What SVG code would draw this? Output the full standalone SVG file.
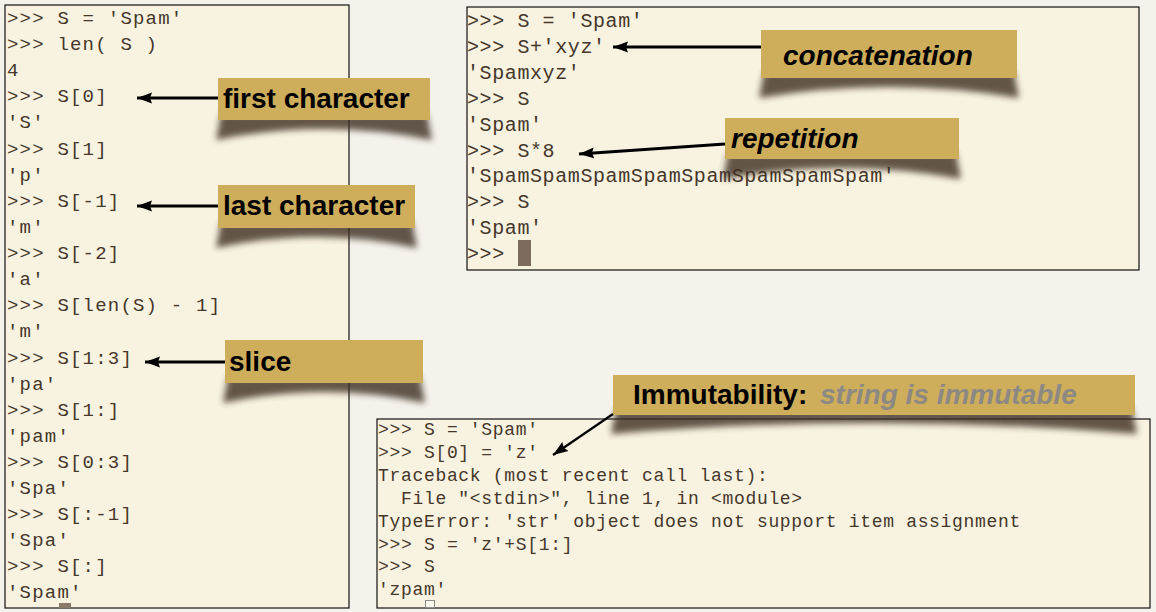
<svg xmlns="http://www.w3.org/2000/svg" width="1156" height="612" viewBox="0 0 1156 612">
<style>
.bg{fill:#f4f2ea}
.panel{fill:#f8f2e0;stroke:#111;stroke-width:1.2}
.code{font-family:"Liberation Mono","Courier New",monospace;fill:#45372b;white-space:pre}
.cl{font-size:19px;letter-spacing:1.2px}
.ct{font-size:20px;letter-spacing:0.6px}
.cb{font-size:18px;letter-spacing:0.68px}
.box{fill:#ceae5b}
.shadow{fill:#3d2f24;opacity:0.8;filter:url(#blur)}
.lbl{font-family:"Liberation Sans",Arial,sans-serif;font-weight:bold;font-size:28px;fill:#000}
.it{font-style:italic}
.grey{fill:#8c8984}
.arrow{fill:none;stroke:#000;stroke-width:3;marker-end:url(#ah)}
</style>
<defs>
<filter id="blur" x="-10%" y="-50%" width="120%" height="200%"><feGaussianBlur stdDeviation="3"/></filter>
<marker id="ah" markerUnits="userSpaceOnUse" markerWidth="18" markerHeight="12" refX="15" refY="6" orient="auto"><path d="M15,6 L0,0.5 L2,6 L0,11.5 Z" fill="#000"/></marker>
</defs>
<rect class="bg" x="0" y="0" width="1156" height="612"/>

<g id="panel-left">
<rect class="panel" x="5" y="5" width="344" height="603"/>
<text class="code cl" x="7">
<tspan x="7" y="24">&gt;&gt;&gt; S = 'Spam'</tspan>
<tspan x="7" y="50">&gt;&gt;&gt; len( S )</tspan>
<tspan x="7" y="76">4</tspan>
<tspan x="7" y="102">&gt;&gt;&gt; S[0]</tspan>
<tspan x="7" y="128">'S'</tspan>
<tspan x="7" y="155">&gt;&gt;&gt; S[1]</tspan>
<tspan x="7" y="181">'p'</tspan>
<tspan x="7" y="207">&gt;&gt;&gt; S[-1]</tspan>
<tspan x="7" y="233">'m'</tspan>
<tspan x="7" y="259">&gt;&gt;&gt; S[-2]</tspan>
<tspan x="7" y="285">'a'</tspan>
<tspan x="7" y="311">&gt;&gt;&gt; S[len(S) - 1]</tspan>
<tspan x="7" y="337">'m'</tspan>
<tspan x="7" y="364">&gt;&gt;&gt; S[1:3]</tspan>
<tspan x="7" y="390">'pa'</tspan>
<tspan x="7" y="416">&gt;&gt;&gt; S[1:]</tspan>
<tspan x="7" y="442">'pam'</tspan>
<tspan x="7" y="468">&gt;&gt;&gt; S[0:3]</tspan>
<tspan x="7" y="494">'Spa'</tspan>
<tspan x="7" y="520">&gt;&gt;&gt; S[:-1]</tspan>
<tspan x="7" y="546">'Spa'</tspan>
<tspan x="7" y="572">&gt;&gt;&gt; S[:]</tspan>
<tspan x="7" y="598">'Spam'</tspan>
</text>
<rect x="59" y="603" width="12" height="5" fill="#8a7a6a"/>
</g>

<g id="panel-top">
<rect class="panel" x="467" y="7" width="672" height="263"/>
<text class="code ct">
<tspan x="467" y="27">&gt;&gt;&gt; S = 'Spam'</tspan>
<tspan x="467" y="53">&gt;&gt;&gt; S+'xyz'</tspan>
<tspan x="467" y="79">'Spamxyz'</tspan>
<tspan x="467" y="105">&gt;&gt;&gt; S</tspan>
<tspan x="467" y="131">'Spam'</tspan>
<tspan x="467" y="157">&gt;&gt;&gt; S*8</tspan>
<tspan x="467" y="182">'SpamSpamSpamSpamSpamSpamSpamSpam'</tspan>
<tspan x="467" y="208">&gt;&gt;&gt; S</tspan>
<tspan x="467" y="234">'Spam'</tspan>
<tspan x="467" y="260">&gt;&gt;&gt;</tspan>
</text>
<rect x="518" y="240" width="13" height="26" fill="#7d6b5e"/>
</g>

<g id="panel-bottom">
<rect class="panel" x="377" y="419" width="773" height="189"/>
<text class="code cb">
<tspan x="378" y="435">&gt;&gt;&gt; S = 'Spam'</tspan>
<tspan x="378" y="458">&gt;&gt;&gt; S[0] = 'z'</tspan>
<tspan x="378" y="481">Traceback (most recent call last):</tspan>
<tspan x="378" y="504">  File "&lt;stdin&gt;", line 1, in &lt;module&gt;</tspan>
<tspan x="378" y="527">TypeError: 'str' object does not support item assignment</tspan>
<tspan x="378" y="550">&gt;&gt;&gt; S = 'z'+S[1:]</tspan>
<tspan x="378" y="572">&gt;&gt;&gt; S</tspan>
<tspan x="378" y="595">'zpam'</tspan>
</text>
<rect x="425.5" y="600.5" width="9" height="7" fill="#fbf8ee" stroke="#8a8a8a" stroke-width="1"/>
</g>

<g id="label-first">
<path class="shadow" d="M221,114 L427,114 L432,140 Q324,118 216,140 Z"/>
<rect class="box" x="218" y="78" width="212" height="42"/>
<text class="lbl" x="223" y="108">first character</text>
</g>

<g id="label-last">
<path class="shadow" d="M221,222 L412,222 L417,248 Q316,226 216,248 Z"/>
<rect class="box" x="218" y="185" width="197" height="43"/>
<text class="lbl" x="223" y="215">last character</text>
</g>

<g id="label-slice">
<path class="shadow" d="M228,377 L420,377 L425,403 Q324,381 223,403 Z"/>
<rect class="box" x="225" y="340" width="198" height="43"/>
<text class="lbl" x="229" y="371">slice</text>
</g>

<g id="label-concat">
<path class="shadow" d="M764,72 L1014,72 L1019,98 Q889,76 759,98 Z"/>
<rect class="box" x="761" y="30" width="256" height="48"/>
<text class="lbl it" x="783" y="65">concatenation</text>
</g>

<g id="label-repetition">
<path class="shadow" d="M728,153 L956,153 L961,179 Q842,157 723,179 Z"/>
<rect class="box" x="725" y="118" width="234" height="41"/>
<text class="lbl it" x="731" y="148">repetition</text>
</g>

<g id="label-immutability">
<path class="shadow" d="M616,409 L1132,409 L1137,434 Q874,412 611,434 Z"/>
<rect class="box" x="613" y="375" width="522" height="40"/>
<text class="lbl" x="633" y="404">Immutability:</text>
<text class="lbl it grey" x="820" y="404">string is immutable</text>
</g>

<g id="connectors">
<path class="arrow" d="M218,98 L137,98"/>
<path class="arrow" d="M218,206 L137,206"/>
<path class="arrow" d="M225,362 L145,362"/>
<path class="arrow" d="M761,47 L613,47"/>
<path class="arrow" d="M725,144 L579,154"/>
<path class="arrow" style="stroke-width:2.2" d="M613,414 L553,455"/>
</g>
</svg>
